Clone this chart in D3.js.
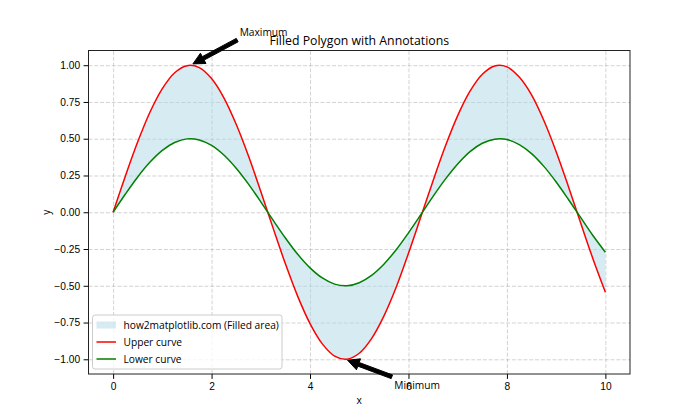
<!DOCTYPE html>
<html>
  <head>
    <meta charset="utf-8">
    <title>Filled Polygon with Annotations</title>
    <script src="https://d3js.org/d3.v7.min.js"></script>
    <style>
      body { margin: 0; background: #fff; }
      svg { display: block; font-family: "Open Sans", "Noto Sans", sans-serif; }
      .tick text { font-size: 10.2px; fill: #000; }
      .grid line { stroke: #b0b0b0; stroke-opacity: 0.7; stroke-dasharray: 4,1.8; stroke-width: 0.8; }
      .grid .domain { display: none; }
    </style>
  </head>
  <body>
    <svg id="chart" width="700" height="420"></svg>
    <script>
      // values, x from 0 to 10 every 0.25
      const xs = d3.range(0, 10.01, 0.25);
      const upper = [0.000, 0.247, 0.479, 0.682, 0.841, 0.949, 0.997, 0.984, 0.909, 0.778, 0.598, 0.382, 0.141, -0.108, -0.351, -0.572, -0.757,
        -0.895, -0.978, -0.999, -0.959, -0.859, -0.706, -0.510, -0.279, -0.033, 0.215, 0.450, 0.657, 0.823, 0.938, 0.995, 0.989, 0.919,
        0.798, 0.624, 0.412, 0.174, -0.075, -0.319, -0.544];
      const lower = [0.000, 0.124, 0.240, 0.341, 0.421, 0.474, 0.499, 0.492, 0.455, 0.389, 0.299, 0.191, 0.071, -0.054, -0.175, -0.286, -0.378,
        -0.447, -0.489, -0.500, -0.479, -0.429, -0.353, -0.255, -0.140, -0.017, 0.108, 0.225, 0.328, 0.412, 0.469, 0.497, 0.495, 0.460,
        0.399, 0.312, 0.206, 0.087, -0.037, -0.160, -0.272];
      const xTicks = [0, 2, 4, 6, 8, 10];
      const yTicks = [-1, -0.75, -0.5, -0.25, 0, 0.25, 0.5, 0.75, 1];
      // annotations: label, point, text position
      const notes = [
        { label: "Maximum", px: 1.5708, py: 1.0, tx: 2.5708, ty: 1.2 },
        { label: "Minimum", px: 4.7124, py: -1.0, tx: 5.7124, ty: -1.2 }
      ];
      const legendItems = [
        { label: "how2matplotlib.com (Filled area)", type: "patch" },
        { label: "Upper curve", type: "line", color: "red" },
        { label: "Lower curve", type: "line", color: "green" }
      ];

      const data = xs.map(function(x, i) { return { x: x, u: upper[i], l: lower[i] }; });

      const margin = { top: 50.5, right: 70, bottom: 46, left: 88.5 };
      const width = 700, height = 420;
      const chart = d3.select("#chart");

      const x = d3.scaleLinear().domain([-0.5, 10.5]).range([margin.left, width - margin.right]);
      const y = d3.scaleLinear().domain([-1.1, 1.1]).range([height - margin.bottom, margin.top]);

      // grid
      chart.append("g")
        .attr("class", "grid")
        .attr("transform", "translate(0," + (height - margin.bottom) + ")")
        .call(d3.axisBottom(x).tickValues(xTicks).tickSize(-(height - margin.bottom - margin.top)).tickFormat(""));
      chart.append("g")
        .attr("class", "grid")
        .attr("transform", "translate(" + margin.left + ",0)")
        .call(d3.axisLeft(y).tickValues(yTicks).tickSize(-(width - margin.right - margin.left)).tickFormat(""));

      // filled area
      const curve = d3.curveCatmullRom;
      chart.append("path")
        .datum(data)
        .attr("fill", "lightblue")
        .attr("fill-opacity", 0.5)
        .attr("d", d3.area().curve(curve)
          .x(function(d) { return x(d.x); })
          .y0(function(d) { return y(d.l); })
          .y1(function(d) { return y(d.u); }));

      chart.append("path")
        .datum(data)
        .attr("fill", "none")
        .attr("stroke", "red")
        .attr("stroke-width", 1.5)
        .attr("d", d3.line().curve(curve).x(function(d) { return x(d.x); }).y(function(d) { return y(d.u); }));
      chart.append("path")
        .datum(data)
        .attr("fill", "none")
        .attr("stroke", "green")
        .attr("stroke-width", 1.5)
        .attr("d", d3.line().curve(curve).x(function(d) { return x(d.x); }).y(function(d) { return y(d.l); }));

      // axes
      const xAxis = chart.append("g")
        .attr("transform", "translate(0," + (height - margin.bottom) + ")")
        .call(d3.axisBottom(x).tickValues(xTicks).tickSize(4.9).tickPadding(3.5).tickSizeOuter(0).tickFormat(d3.format("d")));
      const yAxis = chart.append("g")
        .attr("transform", "translate(" + margin.left + ",0)")
        .call(d3.axisLeft(y).tickValues(yTicks).tickSize(4.9).tickPadding(3.5).tickSizeOuter(0).tickFormat(d3.format(".2f")));
      xAxis.select(".domain").remove();
      yAxis.select(".domain").remove();
      chart.selectAll(".tick text").style("font-family", null);

      // frame
      chart.append("rect")
        .attr("x", margin.left)
        .attr("y", margin.top)
        .attr("width", width - margin.right - margin.left)
        .attr("height", height - margin.bottom - margin.top)
        .attr("fill", "none")
        .attr("stroke", "#222")
        .attr("stroke-width", 1);

      // labels
      chart.append("text")
        .attr("x", (margin.left + width - margin.right) / 2)
        .attr("y", 44.5)
        .attr("text-anchor", "middle")
        .style("font-size", "12.3px")
        .text("Filled Polygon with Annotations");
      chart.append("text")
        .attr("x", (margin.left + width - margin.right) / 2)
        .attr("y", 404)
        .attr("text-anchor", "middle")
        .style("font-size", "10.2px")
        .text("x");
      chart.append("text")
        .attr("transform", "translate(50," + ((margin.top + height - margin.bottom) / 2) + ") rotate(-90)")
        .attr("text-anchor", "middle")
        .style("font-size", "10.2px")
        .text("y");

      // legend
      const legend = chart.append("g").attr("transform", "translate(92.5,315)");
      legend.append("rect")
        .attr("width", 189.5)
        .attr("height", 54)
        .attr("rx", 2.5)
        .attr("fill", "#fff")
        .attr("fill-opacity", 0.8)
        .attr("stroke", "#cccccc")
        .attr("stroke-width", 1);
      legendItems.forEach(function(d, i) {
        const cy = 10 + i * 17;
        if (d.type == "patch") {
          legend.append("rect")
            .attr("x", 4).attr("y", cy - 3.5)
            .attr("width", 19.5).attr("height", 7)
            .attr("fill", "lightblue").attr("fill-opacity", 0.5);
        } else {
          legend.append("line")
            .attr("x1", 4).attr("x2", 23.5)
            .attr("y1", cy).attr("y2", cy)
            .attr("stroke", d.color).attr("stroke-width", 1.5);
        }
        legend.append("text")
          .attr("x", 31)
          .attr("y", cy)
          .attr("dy", "0.35em")
          .style("font-size", "10.2px")
          .text(d.label);
      });

      // annotations with arrows
      notes.forEach(function(n) {
        const t = chart.append("text")
          .attr("x", x(n.tx))
          .attr("y", y(n.ty))
          .style("font-size", "10.2px")
          .text(n.label);
        const b = t.node().getBBox();
        const px = x(n.px), py = y(n.py);
        // pick the corner of the text box closest to the point
        const cx = px < b.x ? b.x : px > b.x + b.width ? b.x + b.width : b.x + b.width / 2;
        const cy = py < b.y ? b.y : py > b.y + b.height ? b.y + b.height : b.y + b.height / 2;
        const dx = px - cx, dy = py - cy;
        const len = Math.sqrt(dx * dx + dy * dy);
        const ux = dx / len, uy = dy / len;
        const tail = [cx + dx * 0.05, cy + dy * 0.05];
        const tip = [px - dx * 0.05, py - dy * 0.05];
        const w = 3.9 / 2, hw = 11.7 / 2, hl = 11.7;
        const neck = [tip[0] - ux * hl, tip[1] - uy * hl];
        const nx = -uy, ny = ux;
        const pts = [
          [tail[0] + nx * w, tail[1] + ny * w],
          [neck[0] + nx * w, neck[1] + ny * w],
          [neck[0] + nx * hw, neck[1] + ny * hw],
          tip,
          [neck[0] - nx * hw, neck[1] - ny * hw],
          [neck[0] - nx * w, neck[1] - ny * w],
          [tail[0] - nx * w, tail[1] - ny * w]
        ];
        chart.append("polygon")
          .attr("points", pts.map(function(p) { return p.join(","); }).join(" "))
          .attr("fill", "#000")
          .attr("stroke", "#000")
          .attr("stroke-width", 1);
      });
    </script>
  </body>
</html>
